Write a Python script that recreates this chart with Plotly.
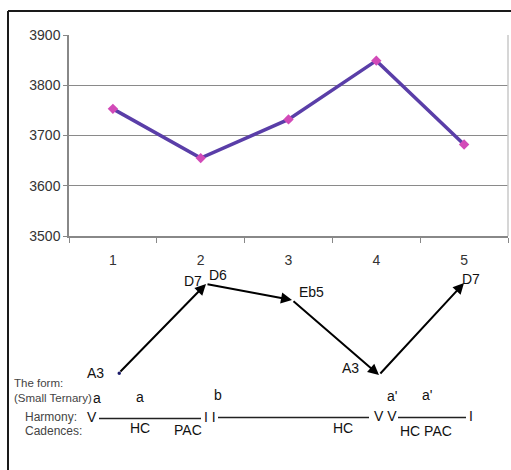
import plotly.graph_objects as go

# ---- data ----
categories = ["1", "2", "3", "4", "5"]
values = [3753, 3655, 3732, 3849, 3682]
y_ticks = [3500, 3600, 3700, 3800, 3900]

W, H = 511, 470
L, R_EDGE, T, B_EDGE = 69, 508, 35, 236


def px(x):
    return (x - L) / (R_EDGE - L)


def py(y):
    return (B_EDGE - y) / (B_EDGE - T)


FONT = "Liberation Sans, Arial, sans-serif"

fig = go.Figure()
fig.add_trace(go.Scatter(
    x=categories, y=values, mode="lines+markers",
    line=dict(color="#5a3ea8", width=3.5),
    marker=dict(symbol="diamond", size=8, color="#d24ab8",
                line=dict(width=0)),
    showlegend=False, cliponaxis=False,
))

annotations = []
shapes = []

# outer frame (left + top)
shapes.append(dict(type="line", xref="paper", yref="paper",
                   x0=px(8), x1=px(8), y0=py(11), y1=py(471),
                   line=dict(color="#1a1a1a", width=2)))
shapes.append(dict(type="line", xref="paper", yref="paper",
                   x0=px(8), x1=px(512), y0=py(11), y1=py(11),
                   line=dict(color="#1a1a1a", width=2)))
# right plot border (light grey)
shapes.append(dict(type="line", xref="paper", yref="paper",
                   x0=1, x1=1, y0=0, y1=1,
                   line=dict(color="#c8c8c8", width=1.5)))

# arrows: (tail x, tail y, head x, head y) in pixels
arrows = [
    (119, 373, 206, 284),
    (206, 284, 292, 300),
    (292, 300, 379, 375),
    (379, 375, 464, 283),
]
for tx, ty, hx, hy in arrows:
    annotations.append(dict(
        x=px(hx), y=py(hy), xref="paper", yref="paper",
        ax=tx - hx, ay=ty - hy, axref="pixel", ayref="pixel",
        showarrow=True, arrowhead=2, arrowsize=1.1, arrowwidth=2,
        arrowcolor="#000000", text="",
    ))
# start dot
shapes.append(dict(type="circle", xref="paper", yref="paper",
                   x0=px(117.5), x1=px(121), y0=py(371.5), y1=py(375),
                   fillcolor="#1a1a6a", line=dict(width=0)))

# note labels
notes = [
    ("A3", 95, 373), ("D7", 193, 281), ("D6", 218, 275),
    ("Eb5", 311, 292), ("A3", 350, 368), ("D7", 471, 279),
]
for t, x, y in notes:
    annotations.append(dict(text=t, x=px(x), y=py(y), xref="paper",
                            yref="paper", showarrow=False,
                            font=dict(family=FONT, size=14, color="#111"),
                            xanchor="center", yanchor="middle"))

# left-hand row titles
titles = [
    ("The form:", 12, 383, 11.5),
    ("(Small Ternary)", 12, 397.5, 11.5),
    ("Harmony:", 23, 417, 12),
    ("Cadences:", 23, 431, 12),
]
for t, x, y, s in titles:
    annotations.append(dict(text=t, x=px(x), y=py(y), xref="paper",
                            yref="paper", showarrow=False,
                            font=dict(family=FONT, size=s, color="#444"),
                            xanchor="left", yanchor="middle"))

# form, harmony and cadence marks
marks = [
    ("a", 97, 397.5), ("a", 140, 396.5), ("b", 218, 395),
    ("a'", 392, 396), ("a'", 427, 395),
    ("V", 92, 417), ("I I", 210, 416.5), ("V V", 385, 416), ("I", 471, 416),
    ("HC", 140, 428), ("PAC", 188, 430), ("HC", 343, 428),
    ("HC PAC", 426, 431),
]
for t, x, y in marks:
    annotations.append(dict(text=t, x=px(x), y=py(y), xref="paper",
                            yref="paper", showarrow=False,
                            font=dict(family=FONT, size=14, color="#111"),
                            xanchor="center", yanchor="middle"))

# harmony lines
for x0, x1, y in [(99, 201, 418.5), (218, 369, 417.5), (398, 466, 417.5)]:
    shapes.append(dict(type="line", xref="paper", yref="paper",
                       x0=px(x0), x1=px(x1), y0=py(y), y1=py(y),
                       line=dict(color="#222", width=1.5)))

fig.update_layout(
    width=W, height=H,
    margin=dict(l=L, r=W - R_EDGE, t=T, b=H - B_EDGE, pad=0),
    paper_bgcolor="white", plot_bgcolor="white",
    font=dict(family=FONT, size=14, color="#333"),
    annotations=annotations, shapes=shapes,
    xaxis=dict(
        type="category", range=[-0.5, 4.5], autorange=False,
        tickson="boundaries", ticks="outside",
        ticklen=5, tickcolor="#888", tickwidth=1,
        showline=True, linecolor="#888", linewidth=1.5,
        showgrid=False, ticklabelstandoff=10, automargin=False,
        tickfont=dict(size=14, color="#333"),
    ),
    yaxis=dict(
        range=[3500, 3900], autorange=False, tickvals=y_ticks,
        ticks="outside", automargin=False,
        ticklen=4, tickcolor="#888",
        showline=True, linecolor="#888", linewidth=1.5,
        showgrid=True, gridcolor="#8a8a8a", gridwidth=1.2,
        zeroline=False, tickfont=dict(size=14, color="#333"),
    ),
)

fig.write_html("out.html")
